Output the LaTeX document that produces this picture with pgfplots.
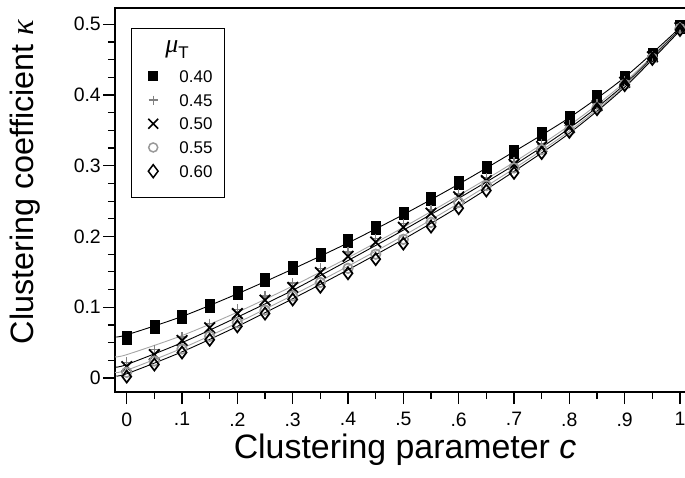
\documentclass[border=0pt]{standalone}
\usepackage{fontspec}
\setmainfont{Liberation Sans}
\newfontfamily\grk{Liberation Serif}
\usepackage{pgfplots}
\usepackage{pgfplotstable}
\pgfplotsset{compat=1.18}

% measured points, one column per mu_T
\pgfplotstableread{
c     a40   a45   a50   a55   a60
0     0.057 0.022 0.016 0.008 0.002
0.05  0.072 0.040 0.033 0.024 0.019
0.10  0.087 0.058 0.053 0.041 0.036
0.15  0.102 0.077 0.071 0.059 0.054
0.20  0.121 0.097 0.091 0.078 0.073
0.25  0.139 0.116 0.110 0.096 0.091
0.30  0.156 0.134 0.128 0.116 0.111
0.35  0.174 0.155 0.149 0.135 0.129
0.40  0.194 0.178 0.172 0.155 0.148
0.45  0.212 0.197 0.192 0.175 0.168
0.50  0.233 0.218 0.213 0.196 0.190
0.55  0.253 0.238 0.233 0.220 0.214
0.60  0.276 0.260 0.256 0.248 0.240
0.65  0.298 0.283 0.279 0.272 0.265
0.70  0.320 0.306 0.302 0.297 0.290
0.75  0.345 0.331 0.327 0.323 0.318
0.80  0.368 0.357 0.354 0.350 0.348
0.85  0.397 0.388 0.385 0.382 0.380
0.90  0.425 0.420 0.418 0.415 0.414
0.95  0.457 0.455 0.454 0.452 0.451
1.00  0.497 0.496 0.495 0.494 0.492
}\pts

% fitted curves
\pgfplotstableread{
c      f40   f45   f50    f55   f60
-0.021 0.058 0.030 0.0155 0.008 0.003
0      0.061 0.033 0.019  0.011 0.006
0.1    0.087 0.060 0.050  0.042 0.037
0.2    0.119 0.093 0.086  0.078 0.073
0.3    0.154 0.130 0.124  0.117 0.112
0.4    0.191 0.170 0.166  0.158 0.153
0.5    0.231 0.213 0.209  0.201 0.196
0.6    0.274 0.258 0.254  0.247 0.242
0.7    0.320 0.305 0.301  0.296 0.292
0.8    0.368 0.357 0.353  0.349 0.346
0.9    0.425 0.418 0.415  0.413 0.411
1.0    0.495 0.494 0.493  0.492 0.491
1.015  0.506 0.505 0.504  0.503 0.502
}\fits

\newcommand{\rs}{\rule[-5.7bp]{0pt}{23.7bp}\hspace*{4bp}}

\begin{document}
\begin{tikzpicture}
\begin{axis}[
    scale only axis,
    width=573.3bp, height=384bp,
    xmin=-0.02115, xmax=1.015,
    ymin=-0.0198, ymax=0.523,
    axis line style={black, line width=1.2bp},
    tick style={black, line width=1.2bp},
    tick align=outside,
    xtick pos=left, ytick pos=left,
    major tick length=12bp, minor tick length=7bp,
    xtick={0,0.1,0.2,0.3,0.4,0.5,0.6,0.7,0.8,0.9,1},
    xticklabels={0,.1,.2,.3,.4,.5,.6,.7,.8,.9,1},
    minor x tick num=1,
    ytick={0,0.1,0.2,0.3,0.4,0.5},
    yticklabels={0,0.1,0.2,0.3,0.4,0.5},
    minor y tick num=3,
    /pgf/number format/assume math mode=true,
    tick label style={font=\fontsize{19.5}{21}\selectfont},
    yticklabel style={inner xsep=2bp},
    xticklabel style={yshift=-5bp},
    xlabel={Clustering parameter \textit{c}},
    ylabel={Clustering coefficient {\grk\itshape κ}},
    xlabel style={font=\fontsize{34}{40}\selectfont, at={(ticklabel cs:0.506,1bp)}},
    ylabel style={font=\fontsize{32.5}{38}\selectfont, at={(ticklabel cs:0.547,28bp)}},
    legend style={at={(axis description cs:0.0274,0.9488)}, anchor=north west,
        draw=black, line width=0.8bp, fill=white,
        inner xsep=8bp, inner ysep=4bp, column sep=21.3bp, row sep=0pt,
        font=\fontsize{17}{20}\selectfont,
        nodes={inner sep=0pt, text depth=}, cells={anchor=base west}},
    legend image code/.code={\path (0,0) (17bp,0); \draw[#1] plot coordinates {(13.3bp,6bp)};},
]
\coordinate (sw) at (rel axis cs:0,0);

% markers
\addplot[only marks, mark=square*, black, mark size=4.6bp, mark options={yscale=1.4}, forget plot] table[x=c, y=a40] {\pts};
\addplot[only marks, mark=+, black!50, mark size=5bp, line width=1.4bp, forget plot] table[x=c, y=a45] {\pts};
\addplot[only marks, mark=x, black, mark size=7.5bp, line width=1.8bp, forget plot] table[x=c, y=a50] {\pts};
\addplot[only marks, mark=o, black!40, mark size=4.8bp, line width=1.7bp, forget plot] table[x=c, y=a55] {\pts};
\addplot[only marks, mark=diamond, black, mark size=6bp, line width=1.7bp, forget plot] table[x=c, y=a60] {\pts};

% fitted curves
\addplot[smooth, black, line width=0.9bp, forget plot] table[x=c, y=f40] {\fits};
\addplot[smooth, black!35, line width=0.9bp, forget plot] table[x=c, y=f45] {\fits};
\addplot[smooth, black, line width=0.9bp, forget plot] table[x=c, y=f50] {\fits};
\addplot[smooth, black!35, line width=0.9bp, forget plot] table[x=c, y=f55] {\fits};
\addplot[smooth, black, line width=0.9bp, forget plot] table[x=c, y=f60] {\fits};

% legend
\addlegendimage{empty legend}
\addlegendentry{\hspace*{-14bp}\rule[-11.7bp]{0pt}{32.3bp}{\fontsize{26}{26}\selectfont\grk\itshape μ}\raisebox{-5.7bp}{\fontsize{17}{17}\selectfont T}}
\addlegendimage{only marks, mark=square*, black, mark size=4.5bp}
\addlegendentry{0.40\rs}
\addlegendimage{only marks, mark=+, black!50, mark size=4.5bp, line width=1.3bp}
\addlegendentry{0.45\rs}
\addlegendimage{only marks, mark=x, black, mark size=7bp, line width=1.6bp}
\addlegendentry{0.50\rs}
\addlegendimage{only marks, mark=o, black!40, mark size=4.5bp, line width=1.5bp}
\addlegendentry{0.55\rs}
\addlegendimage{only marks, mark=diamond, black, mark size=6.5bp, line width=1.5bp}
\addlegendentry{0.60\rule[-15.9bp]{0pt}{33.9bp}\hspace*{4bp}}
\end{axis}
\pgfresetboundingbox
\path (sw) ++(-115bp,-86bp) rectangle ++(685bp,478bp);
\end{tikzpicture}
\end{document}
